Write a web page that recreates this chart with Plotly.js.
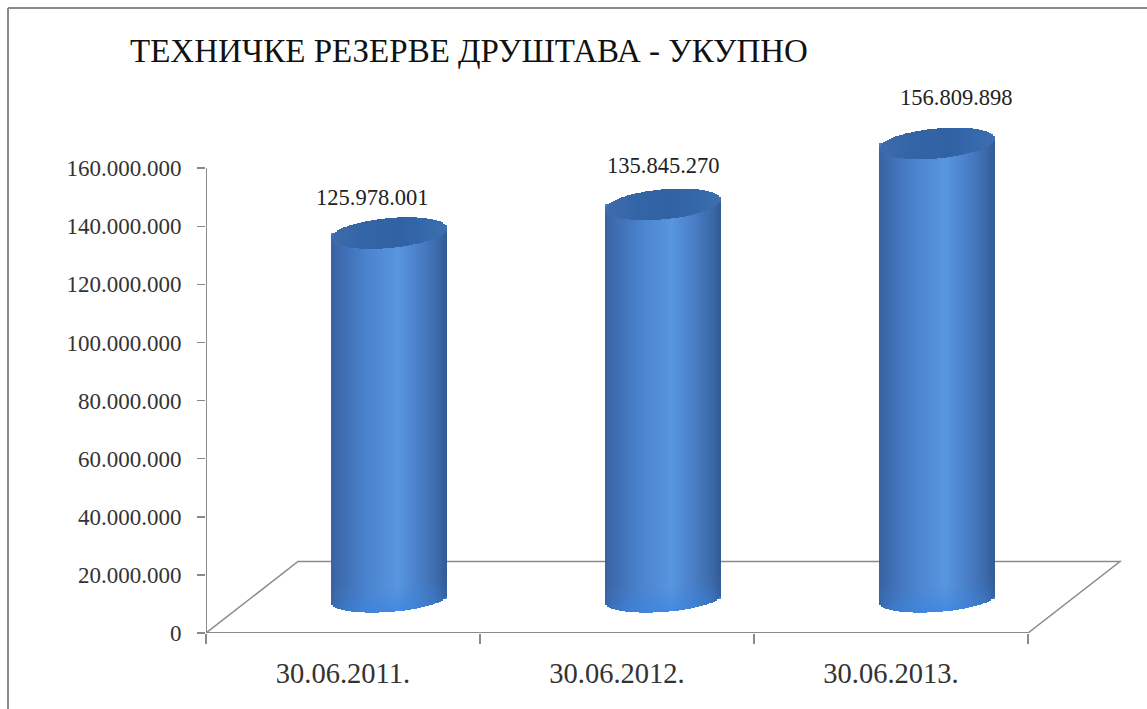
<!DOCTYPE html>
<html><head><meta charset="utf-8">
<script src="https://cdn.plot.ly/plotly-3.0.1.min.js"></script>
<style>html,body{margin:0;padding:0;background:#fff}#chart{width:1147px;height:709px}</style>
</head><body><div id="chart"></div>
<script>
var chartTitle = 'ТЕХНИЧКЕ РЕЗЕРВЕ ДРУШТАВА - УКУПНО';
var categories = ['30.06.2011.', '30.06.2012.', '30.06.2013.'];
var reserves = [125978001, 135845270, 156809898];
var yTicks = [0, 20000000, 40000000, 60000000, 80000000, 100000000, 120000000, 140000000, 160000000];

// page geometry
var W = 1147, H = 709, L = 206, T = 52, B = 633, R = 1130;
var catPx = 274, yMax = 200000000;
var pxPerUnit = (B - T) / yMax;
var xMax = -0.5 + (R - L) / catPx;
function dy(px) { return px / pxPerUnit; }
function dx(px) { return px / catPx; }

// 3-D look of the cylinders
var depth = dy(34), halfW = dx(58), shift = dx(45.5);
var capB = dy(15), tilt = dy(5), baseB = dy(13), baseTilt = dy(4);
var stripCount = 58;
var stops = [[-1, [56, 98, 160]], [-0.75, [64, 112, 182]], [-0.4, [74, 130, 205]], [0.15, [88, 150, 224]], [0.5, [74, 128, 200]], [0.8, [62, 108, 174]], [1, [50, 90, 146]]];
var capStops = [[-1, [62, 108, 172]], [-0.4, [50, 100, 166]], [0.2, [48, 98, 164]], [0.7, [54, 106, 172]], [1, [62, 112, 174]]];
var footColor = [58, 132, 222];
function ramp(s, u) {
  for (var i = 1; i < s.length; i++) if (u <= s[i][0]) {
    var t = (u - s[i - 1][0]) / (s[i][0] - s[i - 1][0]);
    return s[i - 1][1].map(function (c, k) { return c + (s[i][1][k] - c) * t; });
  }
  return s[s.length - 1][1];
}
function mix(a, b, t) { return a.map(function (c, k) { return c + (b[k] - c) * t; }); }
function rgb(c) { return 'rgb(' + c.map(Math.round).join(',') + ')'; }

var segX = [], segY = [], segBase = [], segW = [], segOff = [], segC = [];
function seg(cat, u0, y0, y1, col) {
  segX.push(cat); segBase.push(y0); segY.push(y1 - y0);
  segW.push(2 * halfW / stripCount + 0.0005); segOff.push(shift + u0 * halfW); segC.push(col);
}
categories.forEach(function (cat, i) {
  var top = depth + reserves[i];
  for (var k = 0; k < stripCount; k++) {
    var u0 = -1 + 2 * k / stripCount, u = u0 + 1 / stripCount, r = Math.sqrt(1 - u * u);
    var body = ramp(stops, u);
    var low = depth + baseTilt * u - baseB * r;
    var capLow = top + tilt * u - capB * r, capHigh = top + tilt * u + capB * r;
    var foot = mix(body, footColor, 0.65 * r);
    var steps = 8, stepH = dy(3);
    seg(cat, u0, low, capLow, rgb(body));
    for (var s = 0; s < steps; s++) {
      seg(cat, u0, low + s * stepH, low + (s + 1) * stepH, rgb(mix(foot, body, s / steps)));
    }
    seg(cat, u0, capLow, capHigh, rgb(ramp(capStops, u)));
  }
});

var traces = [
  { type: 'bar', x: categories, y: reserves, base: depth, width: 2 * halfW, offset: shift - halfW,
    marker: { color: '#4a82cc', line: { width: 0 } }, hoverinfo: 'skip', showlegend: false },
  { type: 'bar', x: segX, y: segY, base: segBase, width: segW, offset: segOff,
    marker: { color: segC, line: { width: 0 } }, hoverinfo: 'skip', showlegend: false }
];

var labelShiftX = [29.5, 46, 65.5], labelShiftY = [36, 39, 46];
function fmt(v) { return String(v).replace(/\B(?=(\d{3})+$)/g, '.'); }
var annotations = categories.map(function (cat, i) {
  return { x: cat, y: depth + reserves[i], text: fmt(reserves[i]), showarrow: false, xanchor: 'center', yanchor: 'middle',
    xshift: labelShiftX[i], yshift: labelShiftY[i], font: { family: 'Liberation Serif', size: 22.5, color: '#222' } };
});

var edge = '#8a8a8a';
var floorDX = dx(92), floorDY = dy(71.5);
var shapes = [
  { type: 'path', layer: 'below', xref: 'x', yref: 'y',
    path: 'M -0.5 0 L ' + (-0.5 + floorDX) + ' ' + floorDY + ' L ' + (2.5 + floorDX) + ' ' + floorDY + ' L 2.5 0',
    line: { color: edge, width: 1.5 } },
  { type: 'line', layer: 'below', xref: 'x', yref: 'y', x0: -0.5, x1: 2.5, y0: 0, y1: 0, line: { color: edge, width: 2 } },
  { type: 'line', layer: 'below', xref: 'x', yref: 'y', x0: -0.5, x1: -0.5, y0: 0, y1: 160000000, line: { color: edge, width: 2 } },
  // frame of the picture: top and left edges only
  { type: 'line', xref: 'paper', yref: 'paper', x0: (8 - L) / (R - L), x1: (W - L) / (R - L), y0: (B - 8) / (B - T), y1: (B - 8) / (B - T), line: { color: edge, width: 2 } },
  { type: 'line', xref: 'paper', yref: 'paper', x0: (8 - L) / (R - L), x1: (8 - L) / (R - L), y0: (B - 8) / (B - T), y1: (B - H) / (B - T), line: { color: edge, width: 2 } }
];

var layout = {
  width: W, height: H, paper_bgcolor: '#fff', plot_bgcolor: 'rgba(0,0,0,0)',
  margin: { l: L, r: W - R, t: T, b: H - B, pad: 0 },
  barmode: 'overlay', bargap: 0, showlegend: false, separators: ',.',
  title: { text: chartTitle, xref: 'container', yref: 'container', x: 130 / W, xanchor: 'left', y: 1 - 50 / H, yanchor: 'middle',
    font: { family: 'Liberation Serif', size: 33, color: '#111' } },
  xaxis: { type: 'category', categoryorder: 'array', categoryarray: categories, range: [-0.5, xMax], tickson: 'boundaries',
    showgrid: false, zeroline: false, showline: false, ticks: 'outside', ticklen: 10, tickwidth: 1.5, tickcolor: edge,
    tickfont: { family: 'Liberation Serif', size: 28.5, color: '#333' }, ticklabelstandoff: 20 },
  yaxis: { range: [0, yMax], tickmode: 'array', tickvals: yTicks, tickformat: ',d',
    showgrid: false, zeroline: false, showline: false, ticks: 'outside', ticklen: 8, tickwidth: 1.5, tickcolor: edge,
    tickfont: { family: 'Liberation Serif', size: 23, color: '#333' }, ticklabelstandoff: 11 },
  shapes: shapes, annotations: annotations
};
Plotly.newPlot('chart', traces, layout, { displayModeBar: false, staticPlot: true });
</script></body></html>
